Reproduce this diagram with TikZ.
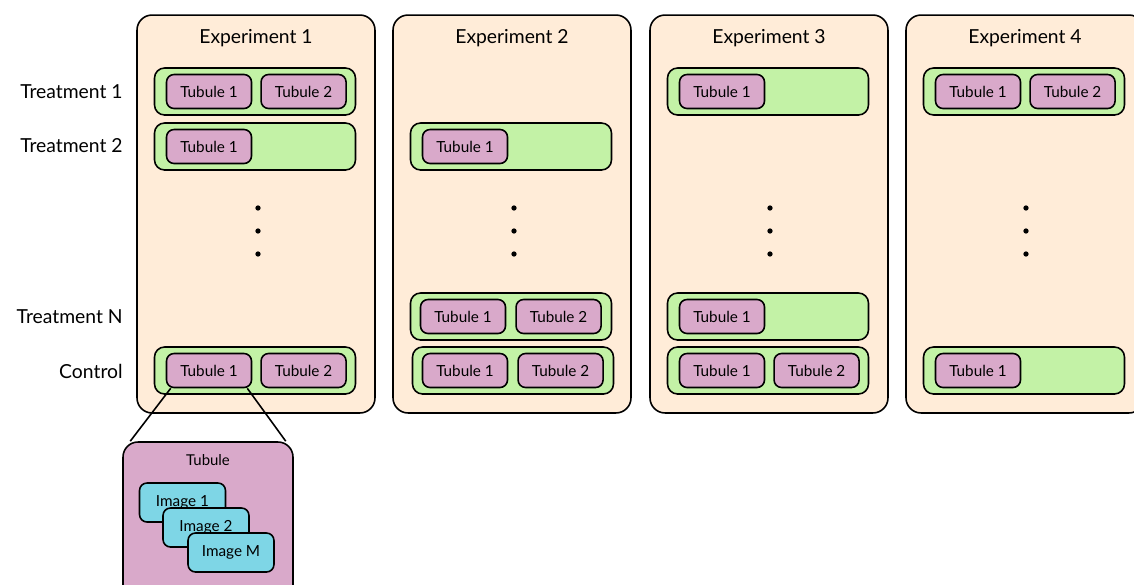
\documentclass[tikz,border=0pt]{standalone}
\usepackage{fontspec}
\setmainfont{Lato}
\usetikzlibrary{positioning}
\definecolor{peach}{HTML}{FFECD8}
\definecolor{rowgreen}{HTML}{C3F2A6}
\definecolor{tubepink}{HTML}{D9A9CA}
\definecolor{imgcyan}{HTML}{7ED6E6}

\begin{document}
\begin{tikzpicture}[x=0.02cm, y=-0.02cm,
    panel/.style={rectangle, rounded corners=0.3cm, draw, line width=0.9pt, fill=peach, minimum width=4.76cm, minimum height=7.96cm},
    title/.style={font=\fontsize{11}{13}\selectfont},
    rowlabel/.style={anchor=east, inner sep=0pt, font=\fontsize{11}{13}\selectfont},
    rowbox/.style={rectangle, rounded corners=0.2cm, draw, line width=0.9pt, fill=rowgreen, minimum width=4.02cm, minimum height=0.94cm},
    tube/.style={rectangle, rounded corners=0.15cm, draw, line width=0.9pt, fill=tubepink, minimum width=1.7cm, minimum height=0.68cm, inner sep=0pt, font=\fontsize{8.7}{11}\selectfont},
    zoombox/.style={rectangle, rounded corners=0.3cm, draw, line width=0.9pt, fill=tubepink, minimum width=3.4cm, minimum height=3.2cm},
    image/.style={rectangle, rounded corners=0.15cm, draw, line width=0.9pt, fill=imgcyan, minimum width=1.72cm, minimum height=0.78cm, inner sep=0pt, font=\fontsize{8.7}{11}\selectfont},
    link/.style={line width=0.9pt}
  ]

    \useasboundingbox (0,0) rectangle (1134,585);
    \clip (0,0) rectangle (1134,585);

    \node[rowlabel] (lt1) at (123,92) {Treatment 1};
    \node[rowlabel] (lt2) at (123,146) {Treatment 2};
    \node[rowlabel] (ltn) at (123,317) {Treatment N};
    \node[rowlabel] (lc) at (123,371) {Control};

    \node[panel] (e1) at (256,214) {};
    \node[panel] (e2) at (512,214) {};
    \node[panel] (e3) at (769,214) {};
    \node[panel] (e4) at (1025,214) {};

    \node[title] at (256,38) {Experiment 1};
    \node[title] at (512,38) {Experiment 2};
    \node[title] at (769,38) {Experiment 3};
    \node[title] at (1025,38) {Experiment 4};

    \node[rowbox] (e1t1) at (255,91.5) {};
    \node[rowbox] (e1t2) at (255,146.5) {};
    \node[rowbox] (e1c) at (255,370.5) {};
    \node[rowbox] (e2t2) at (511,146.5) {};
    \node[rowbox] (e2tn) at (511,316.5) {};
    \node[rowbox] (e2c) at (513,370.5) {};
    \node[rowbox] (e3t1) at (768,91.5) {};
    \node[rowbox] (e3tn) at (768,316.5) {};
    \node[rowbox] (e3c) at (768,370.5) {};
    \node[rowbox] (e4t1) at (1024,91.5) {};
    \node[rowbox] (e4c) at (1024,370.5) {};

    \node[tube, right=0.24cm of e1t1.west, anchor=west] (e1t1a) {Tubule 1};
    \node[tube, right=0.16cm of e1t1a] (e1t1b) {Tubule 2};
    \node[tube, right=0.24cm of e1t2.west, anchor=west] (e1t2a) {Tubule 1};
    \node[tube, right=0.24cm of e1c.west, anchor=west] (e1ca) {Tubule 1};
    \node[tube, right=0.16cm of e1ca] (e1cb) {Tubule 2};

    \node[tube, right=0.24cm of e2t2.west, anchor=west] (e2t2a) {Tubule 1};
    \node[tube, right=0.2cm of e2tn.west, anchor=west] (e2tna) {Tubule 1};
    \node[tube, right=0.18cm of e2tna] (e2tnb) {Tubule 2};
    \node[tube, right=0.2cm of e2c.west, anchor=west] (e2ca) {Tubule 1};
    \node[tube, right=0.18cm of e2ca] (e2cb) {Tubule 2};

    \node[tube, right=0.24cm of e3t1.west, anchor=west] (e3t1a) {Tubule 1};
    \node[tube, right=0.24cm of e3tn.west, anchor=west] (e3tna) {Tubule 1};
    \node[tube, right=0.24cm of e3c.west, anchor=west] (e3ca) {Tubule 1};
    \node[tube, right=0.16cm of e3ca] (e3cb) {Tubule 2};

    \node[tube, right=0.24cm of e4t1.west, anchor=west] (e4t1a) {Tubule 1};
    \node[tube, right=0.16cm of e4t1a] (e4t1b) {Tubule 2};
    \node[tube, right=0.24cm of e4c.west, anchor=west] (e4ca) {Tubule 1};

    \foreach \x in {258,514,770,1026}
      \foreach \y in {208,231,254}
        \fill (\x,\y) circle (1.5pt);

    \node[zoombox] (zoom) at (208,522) {};
    \node[font=\fontsize{8.5}{10}\selectfont] at (208,460) {Tubule};
    \node[image] (img1) at (182.5,502.5) {Image 1};
    \node[image] (img2) at (206,527.5) {Image 2};
    \node[image] (imgm) at (231,552.5) {Image M};

    \draw[link] ([xshift=0.1cm]e1ca.south west) -- ([xshift=0.16cm]zoom.north west);
    \draw[link] ([xshift=-0.1cm]e1ca.south east) -- ([xshift=-0.16cm]zoom.north east);

  \end{tikzpicture}
\end{document}
